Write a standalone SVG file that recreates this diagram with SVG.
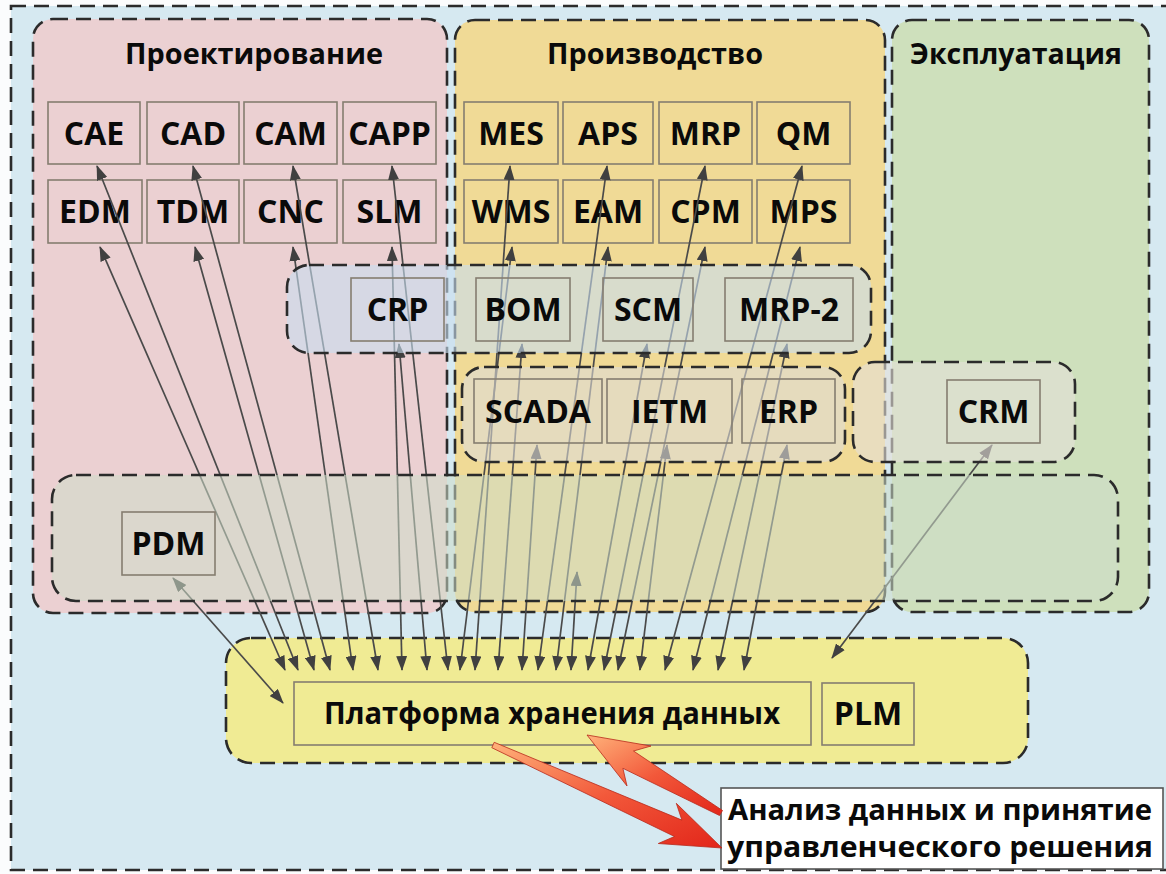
<svg xmlns="http://www.w3.org/2000/svg" width="1166" height="874" viewBox="0 0 1166 874">
<defs>
<style>
.dash{fill:none;stroke:#2b2b2b;stroke-width:2.6;stroke-dasharray:15 8}
.box{fill:none;stroke:#857d70;stroke-width:1.6}
.lbl{font-family:"Open Sans","Noto Sans",sans-serif;font-weight:700;font-size:32px;fill:#0a0a0a;text-anchor:middle}
.ttl{font-family:"Open Sans","Noto Sans",sans-serif;font-weight:700;font-size:29px;fill:#0a0a0a;text-anchor:middle}
.big{font-family:"Open Sans","Noto Sans",sans-serif;font-weight:700;font-size:31px;fill:#0a0a0a;text-anchor:middle}
.ana{font-family:"Open Sans","Noto Sans",sans-serif;font-weight:700;font-size:28px;fill:#0a0a0a;text-anchor:middle}
.con{fill:none;stroke:#4a4a4a;stroke-width:1.7;marker-start:url(#ah);marker-end:url(#ah)}
.red{stroke:#b82a1c;stroke-width:0.8;fill:url(#rg)}
</style>
<marker id="ah" viewBox="0 0 15 11" refX="14" refY="5.5" markerWidth="15" markerHeight="11" markerUnits="userSpaceOnUse" orient="auto-start-reverse">
<path d="M0,0 L15,5.5 L0,11 Z" fill="#404040"/>
</marker>
<linearGradient id="rg" x1="0" y1="0" x2="1" y2="1">
<stop offset="0" stop-color="#ffb27a"/>
<stop offset="0.5" stop-color="#f2583a"/>
<stop offset="1" stop-color="#e2261a"/>
</linearGradient>
</defs>

<rect x="0" y="0" width="1166" height="874" fill="#fbfcfd"/>
<rect id="outer" x="11" y="6" width="1185" height="864" class="dash" style="fill:#d6e9f1"/>

<g id="region-design">
<rect x="33" y="19" width="414" height="594" rx="20" fill="#ebd0d2"/>
<rect x="33" y="19" width="414" height="594" rx="20" class="dash"/>
<text class="ttl" x="254" y="64" textLength="258" lengthAdjust="spacingAndGlyphs">Проектирование</text>
</g>
<g id="region-production">
<rect x="455" y="20" width="430" height="592" rx="20" fill="#f0da96"/>
<rect x="455" y="20" width="430" height="592" rx="20" class="dash"/>
<text class="ttl" x="655" y="64" textLength="216" lengthAdjust="spacingAndGlyphs">Производство</text>
</g>
<g id="region-operation">
<rect x="892" y="20" width="257" height="592" rx="20" fill="#cee0bc"/>
<rect x="892" y="20" width="257" height="592" rx="20" class="dash"/>
<text class="ttl" x="1016" y="64" textLength="212" lengthAdjust="spacingAndGlyphs">Эксплуатация</text>
</g>

<g id="plm-band">
<rect x="226" y="638" width="802" height="125" rx="25" fill="#f0eb94"/>
<rect x="226" y="638" width="802" height="125" rx="25" class="dash"/>
</g>
<g id="platform"><rect class="box" x="294" y="682" width="517" height="63"/><text class="big" x="552" y="724" textLength="456" lengthAdjust="spacingAndGlyphs">Платформа хранения данных</text></g>
<g id="PLM"><rect class="box" x="822" y="683" width="92" height="62"/><text class="lbl" x="868" y="725">PLM</text></g>

<g id="CAE"><rect class="box" x="48" y="102" width="92" height="62"/><text class="lbl" x="94" y="145">CAE</text></g>
<g id="CAD"><rect class="box" x="147" y="102" width="92" height="62"/><text class="lbl" x="193" y="145">CAD</text></g>
<g id="CAM"><rect class="box" x="244" y="102" width="93" height="62"/><text class="lbl" x="290.5" y="145">CAM</text></g>
<g id="CAPP"><rect class="box" x="343" y="102" width="93" height="62"/><text class="lbl" x="389.5" y="145">CAPP</text></g>
<g id="EDM"><rect class="box" x="48" y="180" width="94" height="63"/><text class="lbl" x="95" y="223">EDM</text></g>
<g id="TDM"><rect class="box" x="147" y="180" width="92" height="63"/><text class="lbl" x="193" y="223">TDM</text></g>
<g id="CNC"><rect class="box" x="244" y="180" width="93" height="63"/><text class="lbl" x="290.5" y="223">CNC</text></g>
<g id="SLM"><rect class="box" x="343" y="180" width="93" height="63"/><text class="lbl" x="389.5" y="223">SLM</text></g>

<g id="MES"><rect class="box" x="464" y="102" width="94" height="62"/><text class="lbl" x="511" y="145">MES</text></g>
<g id="APS"><rect class="box" x="563" y="102" width="90" height="62"/><text class="lbl" x="608" y="145">APS</text></g>
<g id="MRP"><rect class="box" x="659" y="102" width="93" height="62"/><text class="lbl" x="705.5" y="145">MRP</text></g>
<g id="QM"><rect class="box" x="757" y="102" width="93" height="62"/><text class="lbl" x="803.5" y="145">QM</text></g>
<g id="WMS"><rect class="box" x="464" y="180" width="94" height="63"/><text class="lbl" x="511" y="223">WMS</text></g>
<g id="EAM"><rect class="box" x="563" y="180" width="90" height="63"/><text class="lbl" x="608" y="223">EAM</text></g>
<g id="CPM"><rect class="box" x="659" y="180" width="93" height="63"/><text class="lbl" x="705.5" y="223">CPM</text></g>
<g id="MPS"><rect class="box" x="757" y="180" width="93" height="63"/><text class="lbl" x="803.5" y="223">MPS</text></g>

<g id="connectors">
<path class="con" d="M100,247 L285,670"/>
<path class="con" d="M97,166 L298,670"/>
<path class="con" d="M195,247 L314,670"/>
<path class="con" d="M193,166 L330,670"/>
<path class="con" d="M293,247 L353,670"/>
<path class="con" d="M293,166 L378,670"/>
<path class="con" d="M392,247 L402,670"/>
<path class="con" d="M399,344 L427,670"/>
<path class="con" d="M392,166 L448,670"/>
<path class="con" d="M512,247 L460,670"/>
<path class="con" d="M510,166 L475,670"/>
<path class="con" d="M522,344 L498,670"/>
<path class="con" d="M537,445 L522,670"/>
<path class="con" d="M607,166 L538,670"/>
<path class="con" d="M608,247 L556,670"/>
<path class="con" d="M577,572 L571,670"/>
<path class="con" d="M647,344 L588,670"/>
<path class="con" d="M705,166 L604,670"/>
<path class="con" d="M705,247 L618,670"/>
<path class="con" d="M667,445 L640,670"/>
<path class="con" d="M802,166 L665,670"/>
<path class="con" d="M800,247 L693,670"/>
<path class="con" d="M787,344 L718,670"/>
<path class="con" d="M787,445 L744,670"/>
<path class="con" d="M173,578 L283,703"/>
<path class="con" d="M992,445 L832,658"/>
</g>

<g id="band-crp">
<rect x="287" y="265" width="584" height="88" rx="22" fill="rgb(200,222,240)" fill-opacity="0.6"/>
<rect x="287" y="265" width="584" height="88" rx="22" class="dash"/>
</g>
<g id="CRP"><rect class="box" x="351" y="278" width="93" height="63"/><text class="lbl" x="397.5" y="321">CRP</text></g>
<g id="BOM"><rect class="box" x="476" y="278" width="94" height="63"/><text class="lbl" x="523" y="321">BOM</text></g>
<g id="SCM"><rect class="box" x="603" y="278" width="90" height="63"/><text class="lbl" x="648" y="321">SCM</text></g>
<g id="MRP-2"><rect class="box" x="725" y="278" width="128" height="63"/><text class="lbl" x="789" y="321">MRP-2</text></g>

<g id="band-scada">
<rect x="462" y="367" width="383" height="95" rx="22" fill="rgb(222,220,215)" fill-opacity="0.6"/>
<rect x="462" y="367" width="383" height="95" rx="22" class="dash"/>
</g>
<g id="SCADA"><rect class="box" x="474" y="379" width="128" height="64"/><text class="lbl" x="538" y="423">SCADA</text></g>
<g id="IETM"><rect class="box" x="607" y="379" width="125" height="64"/><text class="lbl" x="669.5" y="423">IETM</text></g>
<g id="ERP"><rect class="box" x="742" y="379" width="93" height="64"/><text class="lbl" x="788.5" y="423">ERP</text></g>

<g id="band-crm">
<rect x="853" y="362" width="222" height="100" rx="22" fill="rgb(228,224,216)" fill-opacity="0.6"/>
<rect x="853" y="362" width="222" height="100" rx="22" class="dash"/>
</g>
<g id="CRM"><rect class="box" x="947" y="380" width="93" height="63"/><text class="lbl" x="993.5" y="423">CRM</text></g>

<g id="band-pdm">
<rect x="52" y="475" width="1066" height="126" rx="24" fill="rgb(205,220,200)" fill-opacity="0.55"/>
<rect x="52" y="475" width="1066" height="126" rx="24" class="dash"/>
</g>
<g id="PDM"><rect class="box" x="122" y="512" width="93" height="63"/><text class="lbl" x="168.5" y="555">PDM</text></g>

<g id="analysis">
<rect x="721" y="788" width="442" height="81" fill="#ffffff" stroke="#555" stroke-width="1.6"/>
<text class="ana" x="940" y="820" textLength="424" lengthAdjust="spacingAndGlyphs">Анализ данных и принятие</text>
<text class="ana" x="940" y="857" textLength="426" lengthAdjust="spacingAndGlyphs">управленческого решения</text>
</g>

<g id="red-arrows">
<polygon class="red" points="587,735 651,746 633.5,751.0 722.5,810.5 719.5,815.5 622.9,768.3 627,786"/>
<polygon class="red" points="722,848 676.3,803.3 681.9,820.1 494.2,742.3 491.8,747.7 674.5,836.5 658.3,843.5"/>
</g>
</svg>
